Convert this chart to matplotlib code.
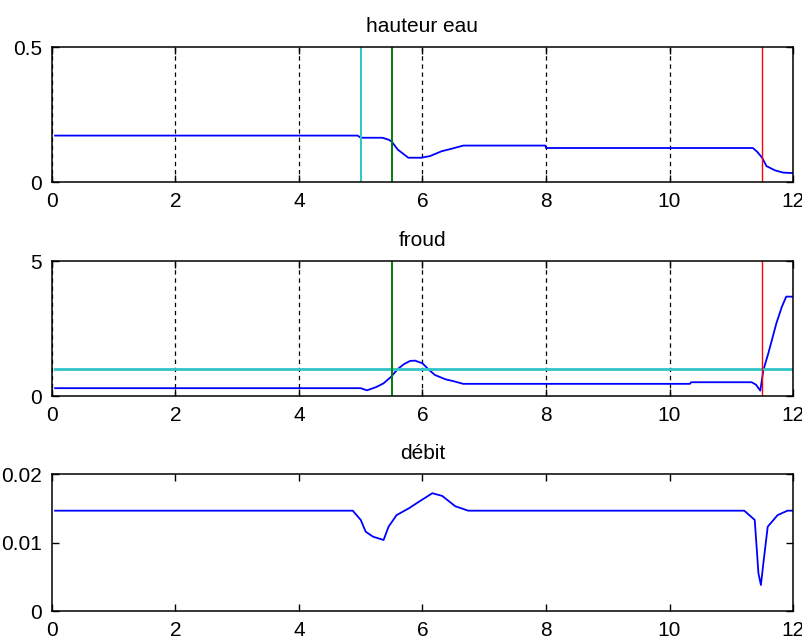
import matplotlib
matplotlib.use('Agg')
import matplotlib.pyplot as plt

plt.rcParams['font.family'] = ['Liberation Sans', 'DejaVu Sans']
plt.rcParams['font.size'] = 15

# abscisse commune
x_ticks = [0, 2, 4, 6, 8, 10, 12]

# hauteur d'eau
x_h = [0.05, 4.95, 5.0, 5.35, 5.45, 5.5, 5.6, 5.77, 5.98, 6.12, 6.31, 6.5, 6.66,
       7.99, 8.0, 11.35, 11.42, 11.5, 11.57, 11.71, 11.84, 12.0]
y_h = [0.172, 0.172, 0.164, 0.164, 0.157, 0.150, 0.120, 0.090, 0.090, 0.096, 0.114,
       0.125, 0.135, 0.135, 0.126, 0.126, 0.112, 0.090, 0.059, 0.043, 0.035, 0.033]

# nombre de froude
x_f = [0.05, 5.0, 5.1, 5.25, 5.37, 5.49, 5.6, 5.7, 5.8, 5.88, 6.0, 6.1, 6.2, 6.37,
       6.5, 6.66, 10.33, 10.35, 11.33, 11.4, 11.47, 11.52, 11.6, 11.73, 11.82, 11.89, 12.0]
y_f = [0.29, 0.29, 0.21, 0.33, 0.47, 0.71, 1.0, 1.18, 1.3, 1.31, 1.21, 0.98, 0.78, 0.62,
       0.55, 0.45, 0.45, 0.51, 0.51, 0.42, 0.2, 0.96, 1.58, 2.69, 3.31, 3.68, 3.68]
froude_crit = 1.0

# debit
x_q = [0.05, 4.87, 5.0, 5.08, 5.2, 5.37, 5.45, 5.58, 5.78, 5.95, 6.16, 6.32, 6.53,
       6.74, 11.21, 11.38, 11.44, 11.48, 11.52, 11.59, 11.75, 11.91, 12.0]
y_q = [0.01465, 0.01465, 0.0133, 0.01158, 0.01085, 0.01037, 0.0123, 0.0140, 0.0150,
       0.0160, 0.0172, 0.0168, 0.0153, 0.01465, 0.01465, 0.0133, 0.0055, 0.0038,
       0.0070, 0.0123, 0.0140, 0.01465, 0.01465]

# positions des singularites
x_seuil = 5.0
x_marche = 5.5
x_aval = 11.5

cyan = '#2ec4c8'
vert = '#008000'
rouge = '#ff0000'
bleu = '#0000ff'

fig = plt.figure(figsize=(8.02, 6.38), dpi=100)
ax1 = fig.add_axes([0.0648, 0.7147, 0.924, 0.2116])
ax2 = fig.add_axes([0.0648, 0.3793, 0.924, 0.2116])
ax3 = fig.add_axes([0.0648, 0.0423, 0.924, 0.2147])

def mise_en_forme(ax, titre, yticks, ylabels, grille):
    ax.set_xlim(0, 12)
    ax.set_ylim(yticks[0], yticks[-1])
    ax.set_xticks(x_ticks)
    ax.set_xticklabels([str(t) for t in x_ticks])
    ax.set_yticks(yticks)
    ax.set_yticklabels(ylabels)
    ax.tick_params(direction='in', top=True, right=True, length=5, width=1,
                   pad=7, labelsize=15)
    for s in ax.spines.values():
        s.set_linewidth(1.1)
    if grille:
        ax.xaxis.grid(True, color='black', linestyle=(0, (3.5, 3)), linewidth=0.9)
    ax.set_title(titre, fontsize=15, pad=11)

ax1.plot(x_h, y_h, color=bleu, lw=1.3)
ax1.axvline(x_seuil, color=cyan, lw=1.4)
ax1.axvline(x_marche, color=vert, lw=1.4)
ax1.axvline(x_aval, color=rouge, lw=1)
mise_en_forme(ax1, 'hauteur eau', [0, 0.5], ['0', '0.5'], True)

ax2.plot(x_f, y_f, color=bleu, lw=1.3)
ax2.plot([x_f[0], x_f[-1]], [froude_crit, froude_crit], color=cyan, lw=2)
ax2.axvline(x_marche, color=vert, lw=1.4)
ax2.axvline(x_aval, color=rouge, lw=1)
mise_en_forme(ax2, 'froud', [0, 5], ['0', '5'], True)

ax3.plot(x_q, y_q, color=bleu, lw=1.3)
mise_en_forme(ax3, 'débit', [0, 0.01, 0.02], ['0', '0.01', '0.02'], False)

fig.savefig('out.png', dpi=100)
